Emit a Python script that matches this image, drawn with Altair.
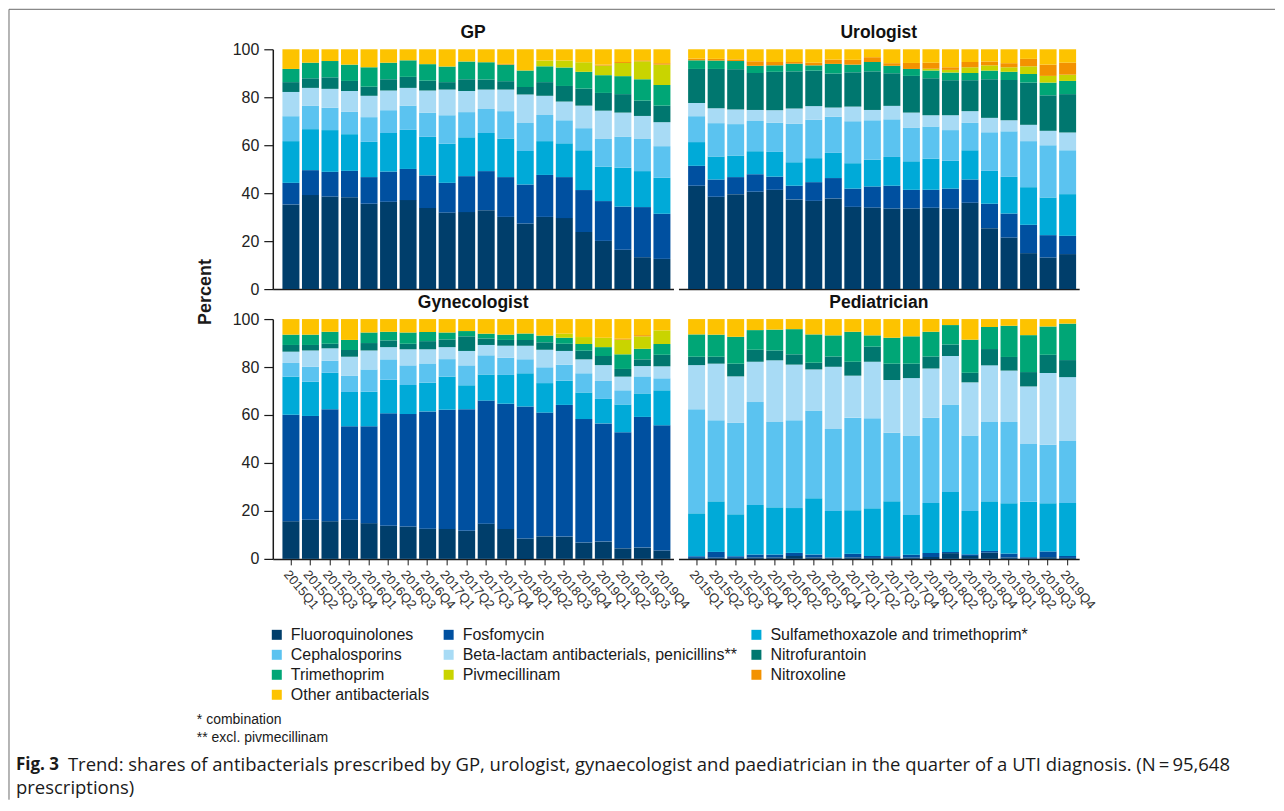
import altair as alt
import pandas as pd

QUARTERS = [
    "2015Q1", "2015Q2", "2015Q3", "2015Q4",
    "2016Q1", "2016Q2", "2016Q3", "2016Q4",
    "2017Q1", "2017Q2", "2017Q3", "2017Q4",
    "2018Q1", "2018Q2", "2018Q3", "2018Q4",
    "2019Q1", "2019Q2", "2019Q3", "2019Q4",
]

CATEGORIES = [
    "Fluoroquinolones",
    "Fosfomycin",
    "Sulfamethoxazole and trimethoprim*",
    "Cephalosporins",
    "Beta-lactam antibacterials, penicillins**",
    "Nitrofurantoin",
    "Trimethoprim",
    "Pivmecillinam",
    "Nitroxoline",
    "Other antibacterials",
]

COLORS = [
    "#003e6b", "#0050a0", "#00aad8", "#5bc3f0", "#a8dbf5",
    "#00776f", "#00a676", "#c9d400", "#f39200", "#fdc300",
]

PANEL_TITLES = ["GP", "Urologist", "Gynecologist", "Pediatrician"]

# Upper edge (cumulative %) of the first nine classes in each quarter, as read
# from the figure; "Other antibacterials" fills the rest up to 100 %.
GP_TOPS = [
    [35.3, 44.3, 61.7, 72.1, 82.2, 86.3, 91.8, 91.8, 91.8],
    [39.2, 49.6, 66.7, 76.4, 83.9, 87.9, 94.4, 94.4, 94.4],
    [38.6, 48.9, 66.3, 75.6, 83.5, 88.3, 95.1, 95.1, 95.1],
    [38.3, 49.3, 64.6, 73.9, 82.6, 86.8, 93.6, 93.6, 93.6],
    [35.6, 46.7, 61.4, 71.7, 80.6, 84.4, 92.5, 92.5, 92.5],
    [36.4, 49.0, 65.1, 74.6, 82.8, 87.5, 94.4, 94.4, 94.4],
    [37.1, 50.1, 66.4, 76.5, 83.9, 88.5, 95.4, 95.4, 95.4],
    [33.8, 47.4, 63.5, 73.6, 82.8, 86.9, 93.8, 93.8, 93.8],
    [31.9, 44.3, 60.6, 72.5, 83.2, 86.3, 92.8, 92.8, 92.8],
    [32.1, 47.1, 63.3, 73.8, 82.6, 87.5, 94.9, 94.9, 94.9],
    [32.9, 49.2, 65.1, 75.1, 83.2, 87.4, 94.6, 94.6, 94.6],
    [30.1, 46.7, 62.8, 74.2, 83.2, 86.7, 93.6, 93.6, 93.9],
    [27.4, 43.6, 57.6, 69.3, 81.1, 84.3, 91.1, 91.1, 91.1],
    [30.1, 47.6, 61.7, 72.6, 80.6, 86.3, 92.9, 95.3, 95.3],
    [29.6, 46.7, 60.8, 70.4, 78.2, 84.7, 92.4, 95.3, 95.3],
    [23.8, 41.3, 57.9, 67.1, 76.5, 83.6, 90.6, 94.6, 94.6],
    [20.1, 36.7, 51.1, 62.6, 74.4, 81.8, 89.2, 93.2, 93.6],
    [16.4, 34.4, 50.6, 63.6, 73.6, 81.3, 88.8, 94.3, 94.7],
    [13.3, 34.2, 49.2, 62.6, 72.2, 78.6, 87.5, 95.0, 95.4],
    [12.6, 31.4, 46.4, 59.6, 69.6, 76.5, 85.1, 93.6, 94.2],
]

UROLOGIST_TOPS = [
    [43.1, 51.4, 61.3, 72.1, 77.6, 91.8, 95.4, 95.4, 96.1],
    [38.5, 45.7, 55.3, 69.2, 75.4, 91.8, 95.3, 95.3, 96.0],
    [39.6, 46.7, 55.7, 68.8, 74.9, 91.7, 95.1, 95.1, 95.8],
    [40.6, 47.9, 57.5, 70.1, 74.7, 90.1, 93.1, 93.1, 95.0],
    [41.4, 46.9, 57.2, 69.4, 74.6, 90.6, 93.3, 93.3, 94.7],
    [37.4, 43.1, 52.9, 68.9, 75.3, 90.8, 94.0, 94.0, 94.7],
    [36.8, 44.6, 54.6, 70.6, 76.3, 91.1, 93.3, 93.3, 94.4],
    [37.8, 46.3, 56.8, 71.9, 75.7, 89.9, 93.9, 93.9, 95.7],
    [34.3, 41.9, 52.5, 70.0, 76.1, 90.4, 93.6, 93.6, 95.6],
    [34.0, 42.8, 54.0, 70.4, 74.7, 90.8, 94.7, 94.7, 96.7],
    [33.6, 43.1, 55.1, 70.8, 76.4, 90.0, 93.1, 93.1, 94.2],
    [33.6, 41.4, 53.3, 67.2, 73.6, 88.9, 91.8, 91.8, 94.3],
    [33.9, 41.4, 54.4, 67.8, 72.5, 87.9, 91.1, 91.9, 94.4],
    [33.5, 41.9, 53.5, 66.3, 72.5, 87.1, 90.3, 91.4, 92.5],
    [36.0, 45.7, 57.9, 69.3, 74.2, 87.1, 90.1, 92.5, 94.7],
    [25.4, 35.6, 49.3, 65.4, 71.4, 87.5, 91.1, 93.3, 94.9],
    [21.5, 31.5, 46.8, 65.8, 70.4, 87.2, 90.6, 92.5, 94.2],
    [15.0, 26.8, 42.5, 61.7, 68.5, 86.1, 89.7, 92.9, 96.0],
    [13.2, 22.5, 38.2, 60.0, 66.0, 80.8, 86.1, 88.9, 93.6],
    [14.6, 22.2, 39.6, 57.9, 65.3, 81.3, 86.8, 89.4, 94.4],
]

GYNECOLOGIST_TOPS = [
    [15.7, 60.1, 76.0, 81.7, 86.4, 89.2, 93.5, 93.5, 93.5],
    [16.3, 59.6, 73.9, 80.1, 86.9, 89.2, 93.5, 93.5, 93.5],
    [15.7, 62.4, 77.6, 82.6, 87.8, 89.7, 94.7, 94.7, 94.7],
    [16.3, 55.3, 69.6, 76.3, 84.3, 87.1, 91.3, 91.3, 91.3],
    [14.9, 55.3, 69.7, 79.0, 86.9, 90.0, 94.4, 94.4, 94.4],
    [13.8, 60.7, 74.7, 83.2, 88.3, 91.1, 94.7, 94.7, 94.7],
    [13.5, 60.4, 72.5, 80.7, 87.4, 89.7, 94.4, 94.4, 94.4],
    [12.6, 61.5, 73.5, 81.5, 87.4, 90.8, 94.6, 94.6, 94.6],
    [12.5, 62.2, 76.0, 83.3, 88.3, 91.5, 94.4, 94.4, 94.4],
    [11.7, 62.4, 72.4, 80.7, 86.7, 92.8, 95.0, 95.0, 95.0],
    [14.7, 66.0, 76.9, 84.9, 89.2, 91.9, 93.9, 93.9, 93.9],
    [12.5, 64.7, 76.7, 83.9, 88.9, 91.3, 93.5, 93.5, 93.5],
    [8.5, 63.5, 77.4, 83.2, 88.9, 91.3, 94.0, 94.0, 94.0],
    [9.4, 61.0, 73.3, 79.9, 87.2, 90.3, 93.1, 93.1, 93.1],
    [9.3, 64.2, 74.3, 81.0, 86.7, 89.7, 92.2, 93.9, 93.9],
    [6.8, 58.3, 69.4, 77.4, 83.2, 86.8, 89.6, 92.5, 92.5],
    [7.2, 56.5, 66.7, 74.2, 80.8, 84.6, 88.3, 92.2, 92.2],
    [4.4, 52.8, 64.4, 70.3, 76.0, 79.2, 85.3, 91.4, 91.8],
    [4.7, 59.2, 69.0, 76.1, 80.4, 83.2, 87.6, 92.8, 93.3],
    [3.5, 55.7, 70.3, 75.3, 80.3, 85.1, 89.6, 95.3, 95.3],
]

PEDIATRICIAN_TOPS = [
    [0.4, 1.1, 19.0, 62.4, 80.8, 84.3, 93.6, 93.6, 93.6],
    [0.5, 2.9, 24.0, 57.8, 81.4, 84.3, 93.5, 93.5, 93.5],
    [0.4, 1.1, 18.6, 56.7, 76.1, 81.4, 92.6, 92.6, 92.6],
    [0.6, 1.8, 22.5, 65.4, 82.2, 87.2, 95.4, 95.4, 95.4],
    [0.6, 1.8, 21.5, 57.1, 82.8, 86.9, 95.6, 95.6, 95.6],
    [1.2, 2.5, 21.2, 57.8, 81.0, 85.3, 95.8, 95.8, 95.8],
    [0.6, 1.8, 25.3, 61.9, 79.0, 81.8, 93.6, 93.6, 93.6],
    [0.3, 0.6, 20.0, 54.2, 80.1, 84.4, 93.2, 93.2, 93.2],
    [0.6, 2.1, 20.3, 58.9, 76.4, 82.2, 94.7, 94.7, 94.7],
    [0.4, 1.2, 21.1, 58.6, 82.2, 88.5, 93.2, 93.2, 93.2],
    [0.4, 1.1, 24.0, 52.6, 74.6, 81.4, 92.2, 92.2, 92.2],
    [0.5, 1.7, 18.3, 51.5, 75.4, 81.4, 92.8, 92.8, 92.8],
    [0.8, 2.5, 23.3, 58.9, 79.4, 84.4, 94.7, 94.7, 94.7],
    [2.4, 2.9, 27.9, 64.4, 84.6, 89.4, 97.5, 97.5, 97.5],
    [1.2, 1.9, 20.0, 51.4, 73.6, 77.6, 91.4, 91.4, 91.4],
    [2.6, 3.3, 24.0, 57.1, 80.7, 87.5, 96.7, 96.7, 96.7],
    [0.6, 2.2, 23.2, 57.1, 78.5, 84.2, 97.2, 97.2, 97.2],
    [0.3, 0.7, 23.8, 47.9, 71.9, 77.9, 93.3, 93.3, 93.3],
    [0.7, 3.1, 23.2, 47.6, 77.5, 85.1, 96.9, 96.9, 96.9],
    [0.4, 1.2, 23.3, 49.2, 75.8, 82.9, 98.1, 98.1, 98.1],
]

Y_TITLE = "Percent"
FOOTNOTES = ["* combination", "** excl. pivmecillinam"]
CAPTION_LABEL = "Fig. 3"
CAPTION_LINE1 = ("Trend: shares of antibacterials prescribed by GP, urologist, gynaecologist "
                 "and paediatrician in the quarter of a UTI diagnosis. (N\u2009=\u200995,648")
CAPTION_LINE2 = "prescriptions)"

FONT = "Liberation Sans"
INK = "#1a1a1a"
W, H = 401, 240


def shares(tops):
    rows = []
    for q, t in zip(QUARTERS, tops):
        edges = [0.0] + list(t) + [100.0]
        for i, c in enumerate(CATEGORIES):
            rows.append({"quarter": q, "category": c, "order": i,
                         "share": round(edges[i + 1] - edges[i], 2)})
    return pd.DataFrame(rows)


LEGEND = alt.Legend(
    title=None, orient="none", legendX=-4, legendY=578, columns=3,
    direction="horizontal",
    symbolType="square", symbolSize=100, symbolStrokeWidth=0,
    labelFont=FONT, labelFontSize=16, labelColor=INK, labelOffset=6,
    columnPadding=11, rowPadding=4, labelLimit=500,
)


def bars(tops, show_y, show_xlabels):
    df = shares(tops)
    if show_y:
        yaxis = alt.Axis(values=[0, 20, 40, 60, 80, 100], title=None, grid=False,
                         tickSize=9, tickWidth=1.2, tickColor=INK,
                         domainColor=INK, domainWidth=1.5,
                         labelFont=FONT, labelFontSize=16, labelColor="#222",
                         labelPadding=5)
    else:
        yaxis = None
    if show_xlabels:
        xaxis = alt.Axis(title=None, labelAngle=50, labelAlign="left", labelBaseline="top",
                         labelFont=FONT, labelFontSize=13, labelColor="#333",
                         tickSize=6, tickColor=INK, domainColor=INK, domainWidth=1.5,
                         labelPadding=3, labelOverlap=False)
    else:
        xaxis = alt.Axis(title=None, labels=False, ticks=False,
                         domainColor=INK, domainWidth=1.5)
    return alt.Chart(df).mark_bar(strokeWidth=0).encode(
        x=alt.X("quarter:N", sort=QUARTERS,
                scale=alt.Scale(paddingInner=0.13, paddingOuter=0.325, align=0.76),
                axis=xaxis),
        y=alt.Y("share:Q", stack="zero", scale=alt.Scale(domain=[0, 100], nice=False),
                axis=yaxis),
        color=alt.Color("category:N", scale=alt.Scale(domain=CATEGORIES, range=COLORS),
                        legend=LEGEND),
        order=alt.Order("order:Q", sort="ascending"),
    )


def txt(text, x, y, **kw):
    return alt.Chart(pd.DataFrame({"t": [text]})).mark_text(**kw).encode(
        text="t:N", x=alt.value(x), y=alt.value(y))


def head(s):
    return txt(s, W / 2, -16, align="center", baseline="middle", font=FONT,
               fontSize=17.5, fontWeight="bold", color="#111")


frame_data = pd.DataFrame({"k": [0]})
frame_top = alt.Chart(frame_data).mark_rule(color="#6b6b6b", strokeWidth=1).encode(
    x=alt.value(-264), x2=alt.value(1003), y=alt.value(-40))
frame_left = alt.Chart(frame_data).mark_rule(color="#6b6b6b", strokeWidth=1).encode(
    x=alt.value(-264), y=alt.value(-40), y2=alt.value(751))

gp = alt.layer(bars(GP_TOPS, True, False), head(PANEL_TITLES[0]),
               frame_top, frame_left).properties(width=W, height=H)
uro = alt.layer(bars(UROLOGIST_TOPS, False, False),
                head(PANEL_TITLES[1])).properties(width=W, height=H)

note_kw = dict(align="left", baseline="middle", font=FONT, fontSize=14, color=INK)
cap_kw = dict(align="left", baseline="middle", font="Open Sans", color=INK)

gyn = alt.layer(
    bars(GYNECOLOGIST_TOPS, True, True),
    head(PANEL_TITLES[2]),
    txt(Y_TITLE, -67, -27, angle=270, align="center", baseline="middle",
        font=FONT, fontSize=18, fontWeight="bold", color=INK),
    txt(FOOTNOTES[0], -76, 401, **note_kw),
    txt(FOOTNOTES[1], -76, 419, **note_kw),
    txt(CAPTION_LABEL, -257, 446.5, fontWeight="bold", fontSize=17, **cap_kw),
    txt(CAPTION_LINE1, -205, 446.5, fontSize=18.5, **cap_kw),
    txt(CAPTION_LINE2, -257, 469, fontSize=18.5, **cap_kw),
).properties(width=W, height=H)

ped = alt.layer(bars(PEDIATRICIAN_TOPS, False, True),
                head(PANEL_TITLES[3])).properties(width=W, height=H)

chart = alt.concat(
    gp, uro, gyn, ped, columns=2, spacing={"row": 30, "column": 5}, bounds="flush",
).properties(padding=0, background="white").configure_view(strokeWidth=0)

chart.save("out.html", embed_options={"renderer": "svg", "actions": False})
